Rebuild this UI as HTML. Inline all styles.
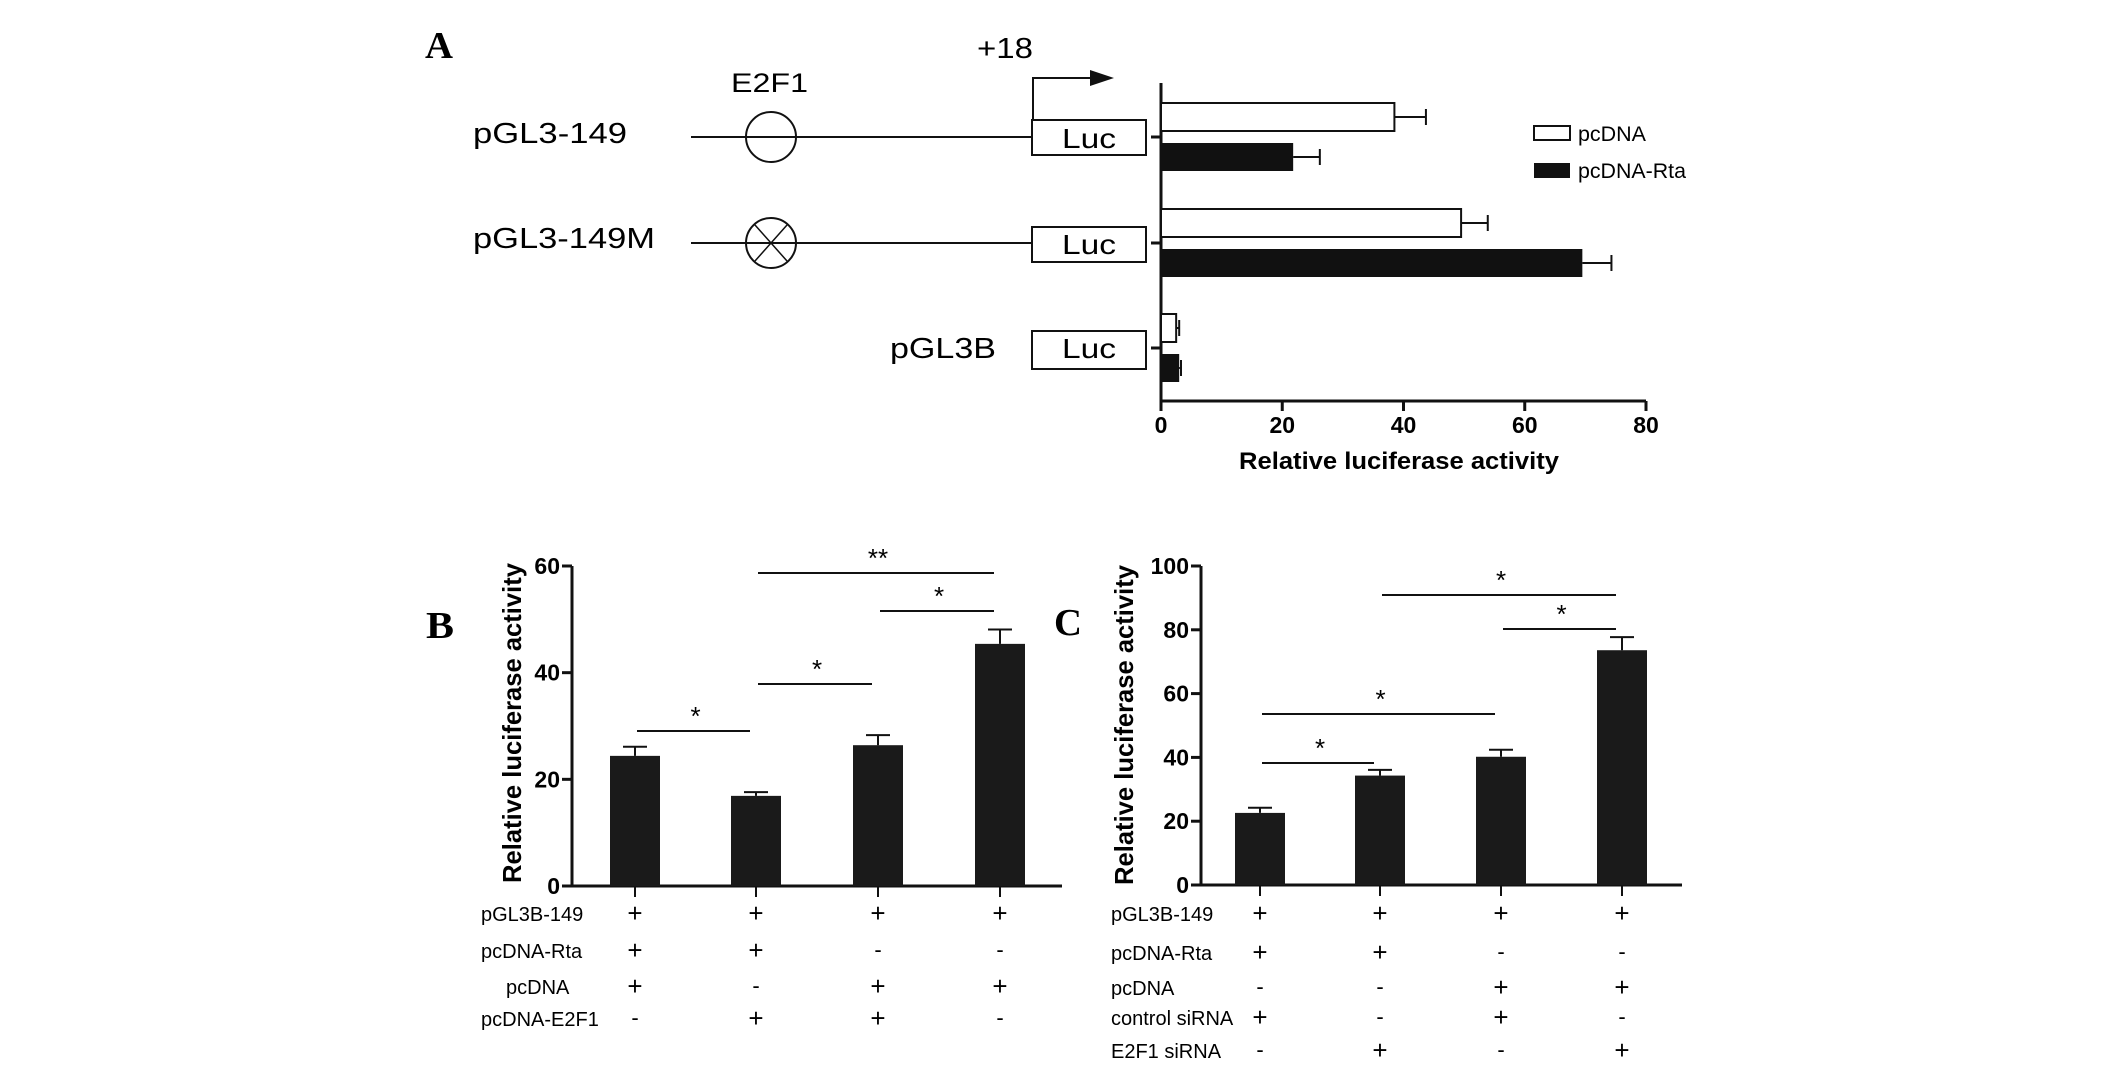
<!DOCTYPE html>
<html><head><meta charset="utf-8"><style>
html,body{margin:0;padding:0;background:#fff;}
svg{display:block;font-family:"Liberation Sans",Arial,sans-serif;}
</style></head><body>
<svg id="fig" width="2126" height="1070" viewBox="0 0 2126 1070" xmlns="http://www.w3.org/2000/svg">
<g id="gA">
  <text x="425" y="58" font-family="Liberation Serif,serif" font-weight="bold" font-size="38" textLength="28" lengthAdjust="spacingAndGlyphs">A</text>
  <text x="977" y="58" font-size="29" textLength="56" lengthAdjust="spacingAndGlyphs">+18</text>
  <text x="731" y="92" font-size="27" textLength="77" lengthAdjust="spacingAndGlyphs">E2F1</text>
  <path d="M1033 120 V78 H1092" fill="none" stroke="#111" stroke-width="2"/>
  <polygon points="1090,70 1114,78 1090,86" fill="#111"/>
  <text x="473" y="143" font-size="29" textLength="154" lengthAdjust="spacingAndGlyphs">pGL3-149</text>
  <line x1="691" y1="137" x2="1032" y2="137" stroke="#111" stroke-width="2"/>
  <ellipse cx="771" cy="137" rx="25" ry="25" fill="none" stroke="#111" stroke-width="2"/>
  <rect x="1032" y="120" width="114" height="35" fill="#fff" stroke="#111" stroke-width="2"/>
  <text x="1089" y="148" font-size="28" text-anchor="middle" textLength="54" lengthAdjust="spacingAndGlyphs">Luc</text>
  <text x="473" y="248" font-size="29" textLength="182" lengthAdjust="spacingAndGlyphs">pGL3-149M</text>
  <line x1="691" y1="243" x2="1032" y2="243" stroke="#111" stroke-width="2"/>
  <ellipse cx="771" cy="243" rx="25" ry="25" fill="none" stroke="#111" stroke-width="2"/>
  <path d="M755 225 L787 261 M787 225 L755 261" stroke="#111" stroke-width="1.5"/>
  <rect x="1032" y="227" width="114" height="35" fill="#fff" stroke="#111" stroke-width="2"/>
  <text x="1089" y="254" font-size="28" text-anchor="middle" textLength="54" lengthAdjust="spacingAndGlyphs">Luc</text>
  <text x="890" y="358" font-size="29" textLength="106" lengthAdjust="spacingAndGlyphs">pGL3B</text>
  <rect x="1032" y="331" width="114" height="38" fill="#fff" stroke="#111" stroke-width="2"/>
  <text x="1089" y="358" font-size="28" text-anchor="middle" textLength="54" lengthAdjust="spacingAndGlyphs">Luc</text>
  <rect x="1534" y="126" width="36" height="14" fill="#fff" stroke="#111" stroke-width="2"/>
  <text x="1578" y="141" font-size="21" textLength="68" lengthAdjust="spacingAndGlyphs">pcDNA</text>
  <rect x="1534" y="163" width="36" height="15" fill="#111"/>
  <text x="1578" y="178" font-size="21" textLength="108" lengthAdjust="spacingAndGlyphs">pcDNA-Rta</text>
  <text x="1399" y="469" font-size="24" font-weight="bold" text-anchor="middle" textLength="320" lengthAdjust="spacingAndGlyphs">Relative luciferase activity</text>
</g>
<g id="gB">
  <text x="426" y="638" font-family="Liberation Serif,serif" font-weight="bold" font-size="38" textLength="28" lengthAdjust="spacingAndGlyphs">B</text>
  <text transform="translate(521,723) rotate(-90)" font-size="26" font-weight="bold" text-anchor="middle" textLength="320" lengthAdjust="spacingAndGlyphs">Relative luciferase activity</text>
</g>
<g id="gC">
  <text x="1054" y="635" font-family="Liberation Serif,serif" font-weight="bold" font-size="38" textLength="28" lengthAdjust="spacingAndGlyphs">C</text>
  <text transform="translate(1133,725) rotate(-90)" font-size="26" font-weight="bold" text-anchor="middle" textLength="320" lengthAdjust="spacingAndGlyphs">Relative luciferase activity</text>
</g>
</svg>
<script>
// Panel A data
const aCategories = ['pGL3-149', 'pGL3-149M', 'pGL3B'];
const aPcdna = [38.5, 49.5, 2.5];
const aPcdnaErr = [5.2, 4.4, 0.5];
const aRta = [21.8, 69.5, 3];
const aRtaErr = [4.4, 4.8, 0.3];
const aTicks = [0, 20, 40, 60, 80];
// Panel B data
const bValues = [24.4, 16.9, 26.4, 45.4];
const bErr = [1.7, 0.7, 1.9, 2.7];
const bTicks = [0, 20, 40, 60];
const bRowLabels = ['pGL3B-149', 'pcDNA-Rta', 'pcDNA', 'pcDNA-E2F1'];
const bRows = [['+','+','+','+'], ['+','+','-','-'], ['+','-','+','+'], ['-','+','+','-']];
const bSig = [[0,1,'*'], [1,2,'*'], [2,3,'*'], [1,3,'**']];
// Panel C data
const cValues = [22.6, 34.3, 40.2, 73.6];
const cErr = [1.6, 1.8, 2.2, 4.1];
const cTicks = [0, 20, 40, 60, 80, 100];
const cRowLabels = ['pGL3B-149', 'pcDNA-Rta', 'pcDNA', 'control siRNA', 'E2F1 siRNA'];
const cRows = [['+','+','+','+'], ['+','+','-','-'], ['-','-','+','+'], ['+','-','+','-'], ['-','+','-','+']];
const cSig = [[0,1,'*'], [0,2,'*'], [2,3,'*'], [1,3,'*']];

const NS = 'http://www.w3.org/2000/svg';
function mk(parent, tag, attrs, text) {
  const e = document.createElementNS(NS, tag);
  for (const k in attrs) e.setAttribute(k, attrs[k]);
  if (text !== undefined) e.textContent = text;
  parent.appendChild(e);
  return e;
}

// ---- Panel A ----
(function () {
  const g = document.getElementById('gA');
  const x0 = 1161, x1 = 1646, yTop = 83, yBot = 401, max = 80;
  const X = v => x0 + v / max * (x1 - x0);
  const catY = [137, 243, 348];
  let e = mk(g, 'line', {x1: x0, y1: yTop, x2: x0, y2: yBot, stroke: '#111', 'stroke-width': 3});
  
  
  e = mk(g, 'line', {x1: x0 - 1.5, y1: yBot, x2: x1, y2: yBot, stroke: '#111', 'stroke-width': 3});
  
  
  aTicks.forEach(t => {
    let l = mk(g, 'line', {x1: X(t), y1: yBot, x2: X(t), y2: yBot + 10, stroke: '#111', 'stroke-width': 3});
    
    
    let tx = mk(g, 'text', {x: X(t), y: 433, 'font-size': 23, 'font-weight': 'bold', 'text-anchor': 'middle'}, String(t));
    
    
  });
  aCategories.forEach((c, i) => {
    const cy = catY[i];
    let t = mk(g, 'line', {x1: x0 - 10, y1: cy, x2: x0, y2: cy, stroke: '#111', 'stroke-width': 3});
    
    
    const h = 28;
    const yb1 = cy - 34, yb2 = cy + 6;
    let r = mk(g, 'rect', {x: x0, y: yb1, width: X(aPcdna[i]) - x0, height: h, fill: '#fff', stroke: '#111', 'stroke-width': 2});
    
    
    let eb = mk(g, 'path', {d: `M${X(aPcdna[i])} ${yb1 + h / 2} H${X(aPcdna[i] + aPcdnaErr[i])} M${X(aPcdna[i] + aPcdnaErr[i])} ${yb1 + h / 2 - 8} v16`, stroke: '#111', 'stroke-width': 2, fill: 'none'});
    
    
    let r2 = mk(g, 'rect', {x: x0, y: yb2, width: X(aRta[i]) - x0, height: h, fill: '#111'});
    
    
    let eb2 = mk(g, 'path', {d: `M${X(aRta[i])} ${yb2 + h / 2} H${X(aRta[i] + aRtaErr[i])} M${X(aRta[i] + aRtaErr[i])} ${yb2 + h / 2 - 8} v16`, stroke: '#111', 'stroke-width': 2, fill: 'none'});
    
    
  });
})();

// ---- Panels B & C ----
function barPanel(gid, cfg) {
  const g = document.getElementById(gid);
  const {x0, x1, yTop, yBot, max, centers, values, errs, ticks, rowLabels, rows, rowY, labelX, sig, sigY, tag} = cfg;
  const Y = v => yBot - v / max * (yBot - yTop);
  let e = mk(g, 'line', {x1: x0, y1: yTop, x2: x0, y2: yBot, stroke: '#111', 'stroke-width': 3});
  
  
  e = mk(g, 'line', {x1: x0 - 10, y1: yBot, x2: x1, y2: yBot, stroke: '#111', 'stroke-width': 3});
  
  
  ticks.forEach(t => {
    let l = mk(g, 'line', {x1: x0 - 10, y1: Y(t), x2: x0, y2: Y(t), stroke: '#111', 'stroke-width': 3});
    
    
    let tx = mk(g, 'text', {x: x0 - 12, y: Y(t) + 8, 'font-size': 23, 'font-weight': 'bold', 'text-anchor': 'end'}, String(t));
    
    
  });
  values.forEach((v, i) => {
    const cx = centers[i];
    let r = mk(g, 'rect', {x: cx - 25, y: Y(v), width: 50, height: yBot - Y(v), fill: '#1a1a1a'});
    
    
    let eb = mk(g, 'path', {d: `M${cx} ${Y(v)} V${Y(v + errs[i])} M${cx - 12} ${Y(v + errs[i])} H${cx + 12}`, stroke: '#111', 'stroke-width': 2, fill: 'none'});
    
    
    let tk = mk(g, 'line', {x1: cx, y1: yBot, x2: cx, y2: yBot + 11, stroke: '#111', 'stroke-width': 2});
    
    
  });
  sig.forEach((s, k) => {
    const y = sigY[k];
    let l = mk(g, 'line', {x1: centers[s[0]] + 2, y1: y, x2: centers[s[1]] - 6, y2: y, stroke: '#111', 'stroke-width': 2});
    
    
    let st = mk(g, 'text', {x: (centers[s[0]] + centers[s[1]]) / 2, y: y - 6, 'font-size': 26, 'text-anchor': 'middle'}, s[2]);
    
    
  });
  rowLabels.forEach((lab, r) => {
    const y = rowY[r];
    let t = mk(g, 'text', {x: labelX[r], y: y + 8, 'font-size': 20}, lab);
    
    
    rows[r].forEach((sym, i) => {
      let s = mk(g, 'text', {x: centers[i], y: y + (sym === '+' ? 9 : 7), 'font-size': sym === '+' ? 26 : 22, 'text-anchor': 'middle'}, sym);
      
      
    });
  });
}

barPanel('gB', {
  tag: 'b', x0: 572, x1: 1062, yTop: 566, yBot: 886, max: 60,
  centers: [635, 756, 878, 1000], values: bValues, errs: bErr, ticks: bTicks,
  rowLabels: bRowLabels, rows: bRows, rowY: [913, 950, 986, 1018], labelX: [481, 481, 506, 481],
  sig: bSig, sigY: [731, 684, 611, 573]
});
barPanel('gC', {
  tag: 'c', x0: 1201, x1: 1682, yTop: 566, yBot: 885, max: 100,
  centers: [1260, 1380, 1501, 1622], values: cValues, errs: cErr, ticks: cTicks,
  rowLabels: cRowLabels, rows: cRows, rowY: [913, 952, 987, 1017, 1050], labelX: [1111, 1111, 1111, 1111, 1111],
  sig: cSig, sigY: [763, 714, 629, 595]
});
</script>
</body></html>
